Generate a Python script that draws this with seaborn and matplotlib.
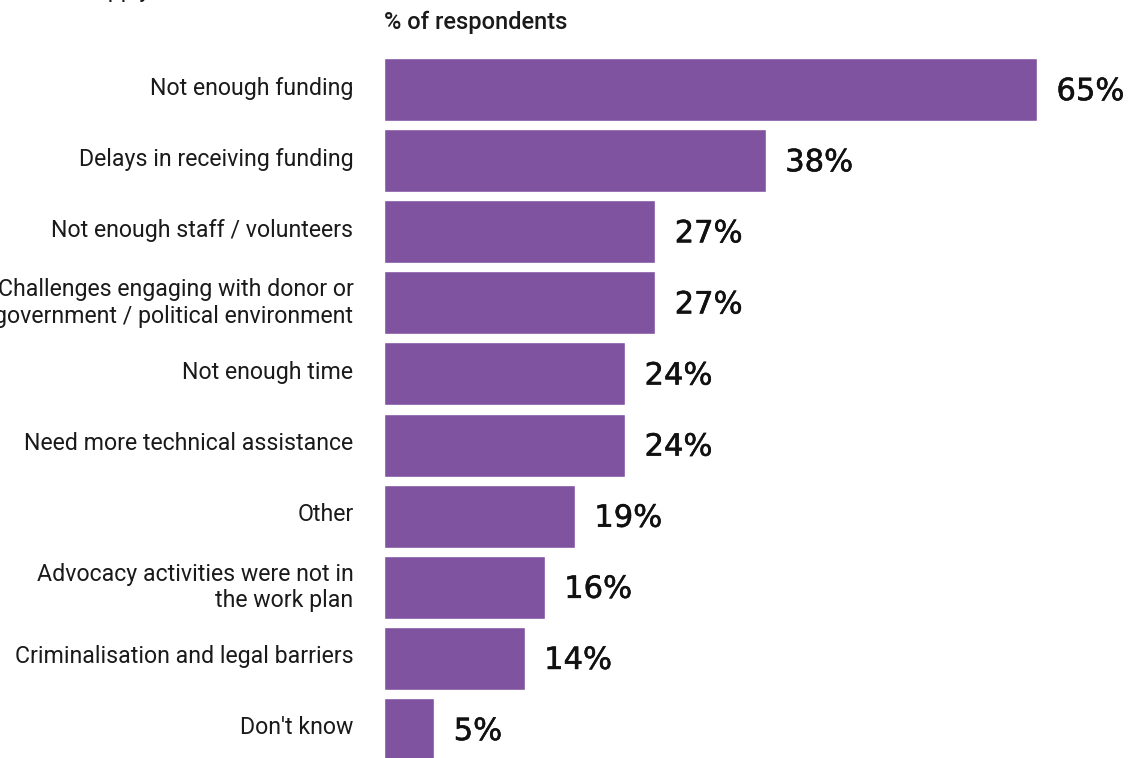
import matplotlib
matplotlib.use("Agg")
import matplotlib.pyplot as plt
import matplotlib.transforms as mtransforms
import matplotlib.patheffects as pe
import seaborn as sns
import pandas as pd

categories = [
    "Not enough funding",
    "Delays in receiving funding",
    "Not enough staff / volunteers",
    "Challenges engaging with donor or\ngovernment / political environment",
    "Not enough time",
    "Need more technical assistance",
    "Other",
    "Advocacy activities were not in\nthe work plan",
    "Criminalisation and legal barriers",
    "Don't know",
]
values = [65, 38, 27, 27, 24, 24, 19, 16, 14, 5]
value_labels = ["65%", "38%", "27%", "27%", "24%", "24%", "19%", "16%", "14%", "5%"]

BAR_COLOR = "#7F53A0"
FONT = ["Roboto", "DejaVu Sans"]
VALUE_FONT = ["DejaVu Sans"]

sns.set_theme(style="white")
plt.rcParams["font.family"] = FONT

df = pd.DataFrame({"reason": categories, "pct": values})

W, H = 1139, 758
fig = plt.figure(figsize=(W / 100, H / 100), dpi=100)
fig.patch.set_facecolor("white")

# axes placed in pixel terms: bars start at x=384, 10 rows of 71.1 px
ax_left, ax_width = 384, 753.5
ax_top, ax_height = 54, 711
ax = fig.add_axes([ax_left / W, (H - ax_top - ax_height) / H, ax_width / W, ax_height / H])

sns.barplot(data=df, y="reason", x="pct", orient="h", color=BAR_COLOR,
            saturation=1, width=0.886, ax=ax)

ax.set_xlim(0, 75)
ax.set_ylim(len(categories) - 0.5, -0.5)
ax.set_xlabel("")
ax.set_ylabel("")
ax.set_xticks([])
for s in ax.spines.values():
    s.set_visible(False)
ax.tick_params(axis="y", length=0, pad=22, labelsize=16.7, labelcolor="#1a1a1a")
lift = mtransforms.ScaledTranslation(0, 4 / 100, fig.dpi_scale_trans)
for t in ax.get_yticklabels():
    t.set_horizontalalignment("right")
    t.set_linespacing(1.2)
    t.set_transform(t.get_transform() + lift)

for i, (v, lab) in enumerate(zip(values, value_labels)):
    ax.annotate(lab, xy=(v, i), xytext=(14, -1.5), textcoords="offset points",
                ha="left", va="center", fontsize=22, family=VALUE_FONT,
                color="#111111",
                path_effects=[pe.withStroke(linewidth=0.4, foreground="#111111")])

fig.text(384 / W, 1 - 22 / H, "% of respondents", ha="left", va="center",
         fontsize=17, fontweight="medium", color="#1a1a1a")

# last line of the question wording above the chart
fig.text(155 / W, 1 + 4 / H, "(select all that apply,", ha="right", va="baseline",
         fontsize=16.7, color="#1a1a1a")

fig.savefig("out.png", dpi=100, facecolor="white")
